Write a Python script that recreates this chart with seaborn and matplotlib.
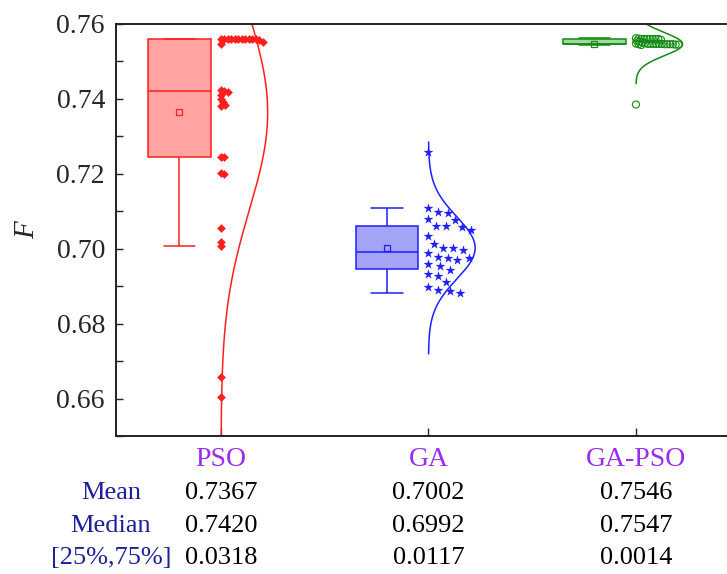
import numpy as np
import pandas as pd
import seaborn as sns
import matplotlib.pyplot as plt
from matplotlib.transforms import blended_transform_factory

# values
groups = ['PSO', 'GA', 'GA-PSO']
pso = [0.7560, 0.7560, 0.7560, 0.7560, 0.7560, 0.7560, 0.7560, 0.7560, 0.7560, 0.7560,
       0.7559, 0.7557, 0.7553, 0.7547,
       0.7424, 0.7420, 0.7418, 0.7410, 0.7400, 0.7392, 0.7385, 0.7382,
       0.7246, 0.7244, 0.7201, 0.7199, 0.7055, 0.7018, 0.7008, 0.6657, 0.6605]
ga = [0.7257, 0.7108, 0.7098, 0.7096, 0.7079, 0.7077, 0.7061, 0.7061, 0.7058, 0.7051,
      0.7035, 0.7013, 0.7003, 0.7002, 0.6997, 0.6988, 0.6979, 0.6976, 0.6975, 0.6969,
      0.6959, 0.6953, 0.6944, 0.6932, 0.6926, 0.6911, 0.6899, 0.6889, 0.6886, 0.6882]
gapso = [0.7562, 0.7561, 0.7560, 0.7560, 0.7560, 0.7560, 0.7560, 0.7560, 0.7560,
         0.7558, 0.7555, 0.7553, 0.7551, 0.7549, 0.7548,
         0.7547, 0.7547, 0.7547, 0.7547, 0.7547, 0.7547,
         0.7546, 0.7546, 0.7546, 0.7546, 0.7546, 0.7545, 0.7545, 0.7544, 0.7385]

row_names = ['Mean', 'Median', '[25%,75%]']
mean_txt = ['0.7367', '0.7002', '0.7546']
median_txt = ['0.7420', '0.6992', '0.7547']
iqr_txt = ['0.0318', '0.0117', '0.0014']

edge_colors = ['#ff1f1f', '#1f1fff', '#138a13']
fill_colors = ['#ffa3a3', '#a3a3f7', '#a5d6a5']
markers = ['D', '*', 'o']
msizes = [20, 55, 26]
swarm_px = [3.5, 10, 2.8]

values = [pso, ga, gapso]
df = pd.DataFrame({'group': np.repeat(groups, [len(v) for v in values]),
                   'F': np.concatenate(values)})
df['pos'] = df['group'].map({g: i for i, g in enumerate(groups)})

sns.set_theme(style='white')
plt.rcParams['font.family'] = ['Liberation Serif', 'DejaVu Serif']

fig = plt.figure(figsize=(7.27, 5.74), dpi=100)
ax = fig.add_axes([116 / 727, 1 - 436 / 574, 1 - 116 / 727, 412 / 574])
xlim = (-0.506, 2.439)
ylim = (0.65, 0.76)
ax.set_xlim(xlim)
ax.set_ylim(ylim)


def swarm_offsets(vals, dist):
    # one-sided beeswarm, computed in pixels
    pts = ax.transData.transform(np.column_stack([np.zeros(len(vals)), vals]))
    ypx = pts[:, 1]
    unit = ax.transData.transform([[1, 0]])[0, 0] - pts[0, 0]
    placed = []
    xs = np.zeros(len(vals))
    for k in np.argsort(-np.asarray(vals), kind='stable'):
        y = ypx[k]
        blocks = []
        for px, py in placed:
            dy = abs(py - y)
            if dy < dist:
                h = np.sqrt(dist ** 2 - dy ** 2)
                blocks.append((px - h, px + h))
        cands = sorted([0.0] + [b[1] for b in blocks])
        for c in cands:
            if c >= 0 and all(not (lo + 1e-6 < c < hi - 1e-6) for lo, hi in blocks):
                break
        xs[k] = c
        placed.append((c, y))
    return xs / unit


for i, g in enumerate(groups):
    sub = df[df.group == g].copy()
    sub['xb'] = sub['pos'] - 0.2
    sns.boxplot(data=sub, x='xb', y='F', orient='x', native_scale=True, width=0.3,
                color=fill_colors[i], linecolor=edge_colors[i], saturation=1,
                linewidth=1.1, showfliers=False, showmeans=True,
                meanprops=dict(marker='s', markerfacecolor='none',
                               markeredgecolor=edge_colors[i], markersize=5,
                               markeredgewidth=0.9),
                ax=ax)

    vals = sub['F'].to_numpy()
    off = swarm_offsets(vals, swarm_px[i])
    if markers[i] == 'o':
        sns.scatterplot(x=sub['pos'] + off, y=vals, marker='o', s=msizes[i],
                        facecolor='none', edgecolor=edge_colors[i], linewidth=0.8,
                        legend=False, ax=ax, zorder=4)
    else:
        sns.scatterplot(x=sub['pos'] + off, y=vals, marker=markers[i], s=msizes[i],
                        color=edge_colors[i], linewidth=0, legend=False, ax=ax, zorder=4)

    # normal curve
    m, s = vals.mean(), vals.std(ddof=1)
    yy = np.linspace(m - 3.4 * s, m + 3.4 * s, 400)
    xx = i + 0.225 * np.exp(-(yy - m) ** 2 / (2 * s ** 2))
    sns.lineplot(x=xx, y=yy, sort=False, estimator=None, color=edge_colors[i],
                 linewidth=1.1, ax=ax)

ax.set_xlim(xlim)
ax.set_ylim(ylim)
ax.set_xlabel('')
ax.set_ylabel('')
ax.set_xticks(range(len(groups)), groups)
ax.set_yticks(np.arange(0.66, 0.761, 0.02))
ax.set_yticks(np.arange(0.65, 0.761, 0.01), minor=True)
ax.yaxis.set_major_formatter(plt.FormatStrFormatter('%.2f'))
ax.tick_params(axis='y', which='both', direction='in', length=5, width=1,
               labelsize=20, pad=8, left=True, color='#222222')
ax.tick_params(axis='x', direction='in', length=6, width=1, labelsize=20,
               pad=8, labelcolor='#9a2cf2', bottom=True, color='#222222')
for side in ['left', 'bottom', 'top']:
    ax.spines[side].set_color('#222222')
    ax.spines[side].set_linewidth(1.4)
ax.spines['right'].set_visible(False)

fig.text(27 / 727, 1 - 230 / 574, 'F', rotation=90, ha='center', va='center',
         style='italic', fontsize=21)

# stats table under the axis
tr = blended_transform_factory(ax.transData, fig.transFigure)
row_y = [493, 526, 558]
for name, texts, ypx in zip(row_names, [mean_txt, median_txt, iqr_txt], row_y):
    fig.text(111 / 727, 1 - ypx / 574, name, ha='center', va='center',
             fontsize=19, color='#1f1f9a')
    for i, t in enumerate(texts):
        ax.text(i, 1 - ypx / 574, t, transform=tr, ha='center', va='center',
                fontsize=19, color='black')

fig.savefig('out.png', dpi=100)
